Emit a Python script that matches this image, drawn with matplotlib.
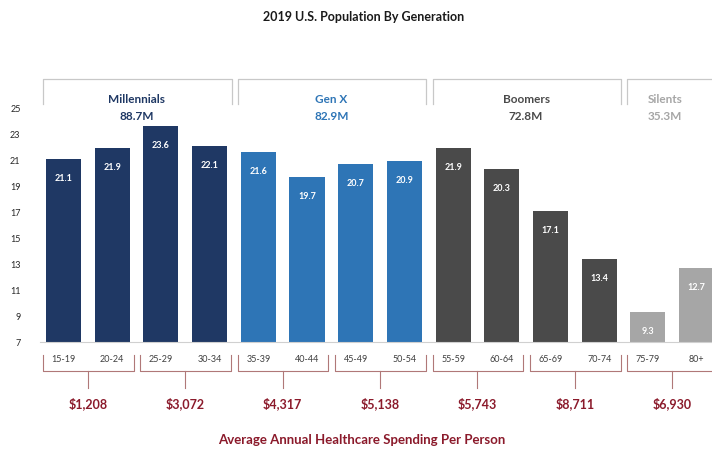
import matplotlib
matplotlib.use('Agg')
import matplotlib.pyplot as plt
import matplotlib.transforms as mtransforms
import numpy as np

plt.rcParams['font.family'] = ['Lato', 'DejaVu Sans']

# datos
edades = ["15-19", "20-24", "25-29", "30-34", "35-39", "40-44", "45-49",
          "50-54", "55-59", "60-64", "65-69", "70-74", "75-79", "80+"]
poblacion = [21.1, 21.9, 23.6, 22.1, 21.6, 19.7, 20.7, 20.9,
             21.9, 20.3, 17.1, 13.4, 9.3, 12.7]
generaciones = ["Millennials", "Gen X", "Boomers", "Silents"]
gen_totales = ["88.7M", "82.9M", "72.8M", "35.3M"]
gen_tamano = [4, 4, 4, 2]
gasto = ["$1,208", "$3,072", "$4,317", "$5,138", "$5,743", "$8,711", "$6,930"]

colores_gen = ["#1f3864", "#2e75b6", "#4a4a4a", "#a6a6a6"]
rojo = "#8b1a2b"

W, H = 712, 454
fig = plt.figure(figsize=(W / 100, H / 100), dpi=100)
ax = fig.add_axes([40 / W, (H - 342) / H, 672 / W, 234 / H])

x = np.arange(len(edades))
colores = []
for c, n in zip(colores_gen, gen_tamano):
    colores += [c] * n

ax.bar(x, poblacion, width=0.72, color=colores, bottom=0)
ax.set_ylim(7, 25)
ax.set_xlim(-0.483, 13.316)
ax.set_yticks(range(7, 26, 2))
ax.tick_params(axis='y', length=0, labelsize=6.5, labelcolor="#262626", pad=14)
ax.set_xticks(x, edades)
ax.tick_params(axis='x', length=0, labelsize=6.5, labelcolor="#404040", pad=9)
for s in ["top", "right", "left"]:
    ax.spines[s].set_visible(False)
ax.spines["bottom"].set_color("#d0d0d0")
ax.spines["bottom"].set_linewidth(0.8)

# etiquetas dentro de las barras
for xi, v in zip(x, poblacion):
    ax.text(xi, v - 1.5, f"{v}", ha='center', va='center', color='white',
            fontsize=6.5, fontweight='bold')

# x en datos, y en pixeles de figura (desde arriba)
tr = mtransforms.blended_transform_factory(ax.transData, fig.transFigure)
def fy(p):
    return 1 - p / H

# cajas de generaciones
inicio = 0
for nombre, total, n, c in zip(generaciones, gen_totales, gen_tamano, colores_gen):
    x0 = inicio - 0.42
    x1 = inicio + n - 1 + 0.45
    ax.plot([x0, x0, x1, x1], [fy(104), fy(79), fy(79), fy(104)], transform=tr,
            color="#c8c8c8", lw=0.9, clip_on=False)
    xc = inicio + (n - 1) / 2
    if n == 2:
        xc -= 0.15
    ax.text(xc, fy(100), nombre, transform=tr, ha='center', va='center',
            color=c, fontsize=8.5, fontweight='bold')
    ax.text(xc, fy(117), total, transform=tr, ha='center', va='center',
            color=c, fontsize=8.5, fontweight='bold')
    inicio += n

# llaves con el gasto
for k, g in enumerate(gasto):
    i = 2 * k
    x0 = i - 0.42
    x1 = i + 1 + 0.44
    xm = i + 0.5
    ax.plot([x0, x0, x1, x1], [fy(355), fy(371), fy(371), fy(355)], transform=tr,
            color="#b07878", lw=0.8, clip_on=False)
    ax.plot([xm, xm], [fy(371), fy(388)], transform=tr,
            color="#b07878", lw=0.8, clip_on=False)
    ax.text(xm, fy(404), g, transform=tr, ha='center', va='center',
            color=rojo, fontsize=9, fontweight='bold')

fig.text(364 / W, fy(17), "2019 U.S. Population By Generation", ha='center',
         va='center', fontsize=9, fontweight='bold', color="#1a1a1a")
fig.text(362 / W, fy(440), "Average Annual Healthcare Spending Per Person",
         ha='center', va='center', fontsize=9.5, fontweight='bold', color=rojo)

fig.savefig("out.png", dpi=100)
